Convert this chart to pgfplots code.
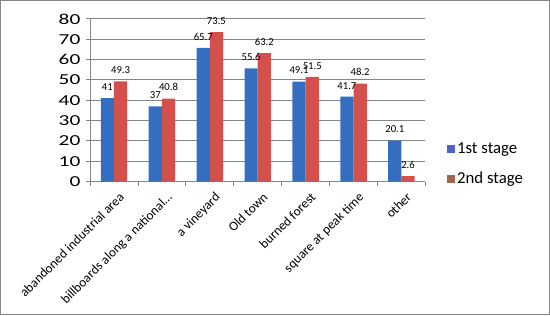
\documentclass[border=0pt]{standalone}
\usepackage{fontspec}
\setmainfont{Carlito}
\usepackage{pgfplots}
\pgfplotsset{compat=1.18}

\definecolor{barblue}{RGB}{52,110,192}
\definecolor{barred}{RGB}{212,80,76}
\definecolor{legblue}{RGB}{80,98,200}
\definecolor{legbrown}{RGB}{160,104,74}
\definecolor{framegray}{RGB}{134,134,134}

\begin{document}
\begin{tikzpicture}
\begin{axis}[
  scale only axis,
  width=330pt, height=160pt,
  ybar=0pt,
  bar width=13pt,
  xmin=-0.5, xmax=6.5,
  ymin=0, ymax=80,
  ytick={0,10,...,80},
  yticklabel={\scalebox{1.4}[1]{\pgfmathprintnumber{\tick}}},
  xtick=data,
  xticklabels={abandoned industrial area, billboards along a national…, a vineyard, Old town, burned forest, square at peak time, other},
  minor xtick={-0.5,0.5,...,6.5},
  major x tick style={draw=none},
  minor tick length=4pt,
  major tick length=4pt,
  tick align=outside,
  axis x line*=bottom,
  axis y line*=left,
  axis line style={framegray, line width=0.8pt},
  tick style={framegray, line width=0.8pt},
  ymajorgrids=true,
  grid style={framegray, line width=0.8pt},
  /pgf/number format/assume math mode=true,
  yticklabel style={font=\fontsize{15}{15}\selectfont, xshift=-2pt},
  xticklabel style={font=\fontsize{13}{13}\selectfont, rotate=45, anchor=north east, inner sep=1pt, yshift=-6pt},
  nodes near coords,
  every node near coord/.append style={font=\fontsize{10.5}{10.5}\selectfont, yshift=4pt},
  legend style={at={([xshift=18pt]rel axis cs:1,0.265)}, anchor=north west, draw=none, fill=none,
    font=\fontsize{16.5}{16.5}\selectfont, row sep=13pt},
  legend cell align=left,
  clip=false,
]
\addplot[fill=barblue, draw=none,
  legend image code/.code={\fill[legblue] (0pt,-4pt) rectangle (8pt,4pt);}]
  coordinates {(0,41) (1,37) (2,65.7) (3,55.6) (4,49.1) (5,41.7) (6,20.1)};
\addplot[fill=barred, draw=none,
  legend image code/.code={\fill[legbrown] (0pt,-4pt) rectangle (8pt,4pt);}]
  coordinates {(0,49.3) (1,40.8) (2,73.5) (3,63.2) (4,51.5) (5,48.2) (6,2.6)};
\legend{1st stage, 2nd stage}
\draw[framegray, line width=1.2pt]
  ([xshift=-88pt,yshift=-131pt]rel axis cs:0,0) rectangle ([xshift=122pt,yshift=18pt]rel axis cs:1,1);
\end{axis}
\end{tikzpicture}
\end{document}
